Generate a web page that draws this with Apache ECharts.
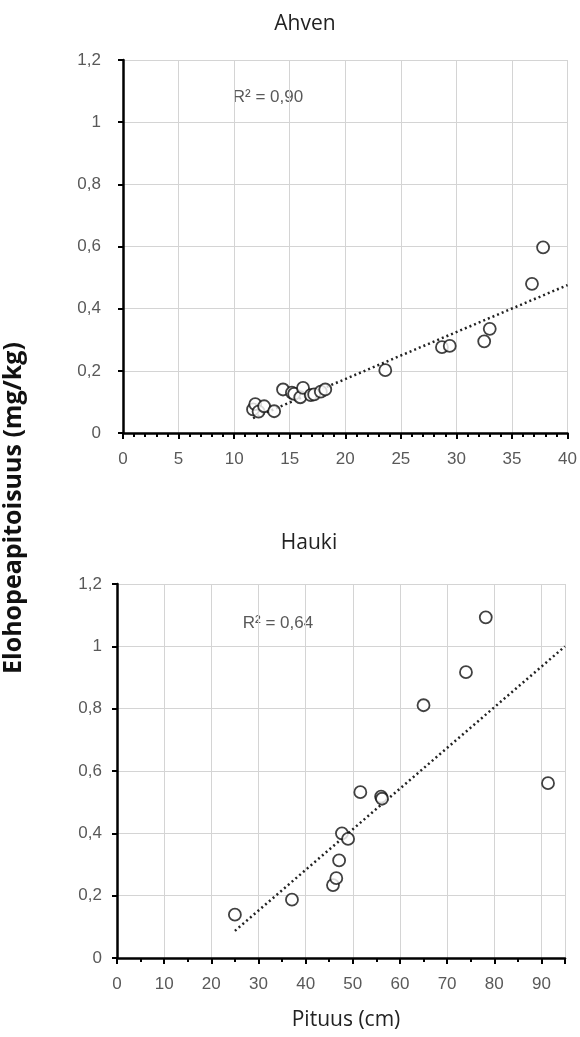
<!DOCTYPE html>
<html>
<head>
<meta charset="utf-8">
<script src="https://cdn.jsdelivr.net/npm/echarts@6/dist/echarts.min.js"></script>
<style>html,body{margin:0;padding:0;background:#fff;}#c{width:580px;height:1037px;}</style>
</head>
<body>
<div id="c"></div>
<script>
// Ahven (perch)
var ahvenLength = [11.7, 11.9, 12.2, 12.7, 13.6, 14.4, 15.2, 15.4, 15.95, 16.2, 16.9, 17.2, 17.8, 18.2, 23.6, 28.7, 29.4, 32.5, 33.0, 36.8, 37.8];
var ahvenHg     = [0.076, 0.093, 0.069, 0.086, 0.070, 0.140, 0.130, 0.126, 0.115, 0.145, 0.122, 0.124, 0.133, 0.140, 0.202, 0.276, 0.280, 0.295, 0.335, 0.480, 0.597];
var ahvenTrendX = [11.7, 40];
var ahvenTrendY = [0.048, 0.476];
var ahvenR2 = 'R\u00b2 = 0,90';

// Hauki (pike)
var haukiLength = [25.0, 37.1, 45.8, 46.5, 47.1, 47.7, 49.0, 51.6, 56.0, 56.2, 65.0, 74.0, 78.2, 91.4];
var haukiHg     = [0.139, 0.187, 0.234, 0.256, 0.313, 0.400, 0.382, 0.532, 0.518, 0.511, 0.811, 0.917, 1.093, 0.561];
var haukiTrendX = [25, 95];
var haukiTrendY = [0.087, 1.0];
var haukiR2 = 'R\u00b2 = 0,64';

var titles = ['Ahven', 'Hauki'];
var xAxisTitle = 'Pituus (cm)';
var yAxisTitle = 'Elohopeapitoisuus (mg/kg)';

function pairs(xs, ys) { return xs.map(function (x, i) { return [x, ys[i]]; }); }
function fmt(v) { return String(+(+v).toFixed(1)).replace('.', ','); }

var labelStyle = { color: '#595959', fontSize: 17, fontFamily: 'Liberation Sans, Arial, sans-serif' };
var axisLineStyle = { color: '#000', width: 2.5 };
var gridLine = { show: true, lineStyle: { color: '#d4d4d4', width: 1 } };
var titleFont = { fontSize: 21, fontWeight: 'normal', color: '#222', fontFamily: 'Open Sans, sans-serif' };

function xAxis(gi, max, interval, minorSplit) {
  return {
    type: 'value', gridIndex: gi, min: 0, max: max, interval: interval,
    axisLine: { show: true, onZero: false, lineStyle: axisLineStyle },
    axisTick: { show: true, length: 6, lineStyle: { color: '#000', width: 2 } },
    minorTick: { show: true, splitNumber: minorSplit, length: 4, lineStyle: { color: '#000', width: 2 } },
    axisLabel: Object.assign({ margin: 18, formatter: fmt, showMaxLabel: max % interval === 0 }, labelStyle),
    splitLine: gridLine
  };
}
function yAxis(gi, margin) {
  return {
    type: 'value', gridIndex: gi, min: 0, max: 1.2, interval: 0.2,
    axisLine: { show: true, onZero: false, lineStyle: axisLineStyle },
    axisTick: { show: true, length: 5, lineStyle: { color: '#000', width: 2 } },
    axisLabel: Object.assign({ margin: margin, formatter: fmt }, labelStyle),
    splitLine: gridLine
  };
}
var scatterStyle = {
  type: 'scatter', symbol: 'circle', symbolSize: 12,
  itemStyle: { color: '#fff', borderColor: '#111', borderWidth: 1.8 },
  z: 3
};
var trendStyle = {
  type: 'line', symbol: 'none', silent: true,
  lineStyle: { color: '#222', width: 2.5, type: [2, 3] }, z: 2
};

var chart = echarts.init(document.getElementById('c'), null, { renderer: 'canvas' });
chart.setOption({
  animation: false,
  backgroundColor: '#fff',
  title: [
    { text: titles[0], left: 300, top: 9, textAlign: 'center', textStyle: titleFont },
    { text: titles[1], left: 304, top: 528, textAlign: 'center', textStyle: titleFont },
    { text: xAxisTitle, left: 341, top: 1005, textAlign: 'center', textStyle: titleFont }
  ],
  grid: [
    { left: 123, top: 60, width: 448, height: 373 },
    { left: 117, top: 584, width: 448, height: 374 }
  ],
  xAxis: [xAxis(0, 40, 5, 5), xAxis(1, 95, 10, 2)],
  yAxis: [yAxis(0, 22), yAxis(1, 15)],
  graphic: [
    { type: 'text', x: 14, y: 508, rotation: Math.PI / 2,
      style: { text: yAxisTitle, fill: '#111', font: 'bold 25px "Open Sans", sans-serif', textAlign: 'center', textVerticalAlign: 'middle' } },
    { type: 'text', x: 268, y: 97,
      style: { text: ahvenR2, fill: '#595959', font: '17px "Liberation Sans", Arial, sans-serif', textAlign: 'center', textVerticalAlign: 'middle' } },
    { type: 'text', x: 278, y: 623,
      style: { text: haukiR2, fill: '#595959', font: '17px "Liberation Sans", Arial, sans-serif', textAlign: 'center', textVerticalAlign: 'middle' } }
  ],
  series: [
    Object.assign({ xAxisIndex: 0, yAxisIndex: 0, data: pairs(ahvenTrendX, ahvenTrendY) }, trendStyle),
    Object.assign({ xAxisIndex: 0, yAxisIndex: 0, data: pairs(ahvenLength, ahvenHg) }, scatterStyle),
    Object.assign({ xAxisIndex: 1, yAxisIndex: 1, data: pairs(haukiTrendX, haukiTrendY) }, trendStyle),
    Object.assign({ xAxisIndex: 1, yAxisIndex: 1, data: pairs(haukiLength, haukiHg) }, scatterStyle)
  ]
});
</script>
</body>
</html>
